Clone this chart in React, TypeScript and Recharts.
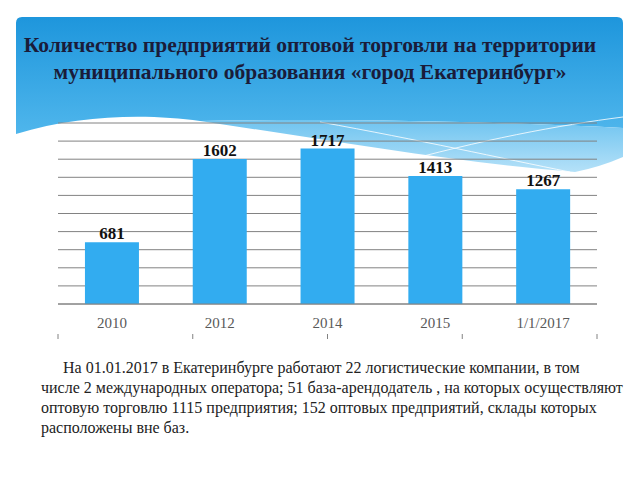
import React from "react";
import { BarChart, Bar, XAxis, YAxis, CartesianGrid, LabelList } from "recharts";

const categories = ["2010", "2012", "2014", "2015", "1/1/2017"];
const companyCounts = [681, 1602, 1717, 1413, 1267];
const yTicks = [0, 200, 400, 600, 800, 1000, 1200, 1400, 1600, 1800, 2000];
const edgeTicks = [0, 1, 2, 3, 4, 5];

const titleLines = [
    "Количество предприятий оптовой торговли на территории",
    "муниципального образования «город Екатеринбург»",
];

const noteLines = [
    "На 01.01.2017 в Екатеринбурге работают 22 логистические компании, в том",
    "числе 2 международных оператора; 51 база-арендодатель , на которых осуществляют",
    "оптовую торговлю 1115 предприятия; 152 оптовых предприятий, склады которых",
    "расположены вне баз.",
];

const data = categories.map((name, i) => ({ name, value: companyCounts[i] }));

const serif = '"Times New Roman", "Liberation Serif", serif';

function HeaderBackground() {
    return (
        <svg width={640} height={200} style={{ position: "absolute", left: 0, top: 0 }}>
            <defs>
                <linearGradient id="hdr" x1="0" y1="0" x2="0" y2="1">
                    <stop offset="0%" stopColor="#1e96dc" />
                    <stop offset="100%" stopColor="#4fb6ec" />
                </linearGradient>
                <linearGradient id="wave" x1="0" y1="0" x2="0" y2="1">
                    <stop offset="0%" stopColor="#6fc4f0" />
                    <stop offset="100%" stopColor="#b5e1f8" />
                </linearGradient>
            </defs>
            <path
                d="M16,23 Q16,17 22,17 L617,17 Q623,17 623,23 L623,128 C500,122 350,118 200,121 C150,114 80,114 16,134 Z"
                fill="url(#hdr)"
            />
            <path
                d="M200,121 C350,118 500,122 623,128 L623,157 Q600,167 575,172 C450,162 330,140 200,121 Z"
                fill="url(#wave)"
            />
            <path d="M320,122 C420,140 500,158 570,172" stroke="#ffffff" strokeOpacity={0.8} fill="none" />
            <path d="M390,165 C480,140 560,125 623,117" stroke="#ffffff" strokeOpacity={0.8} fill="none" />
        </svg>
    );
}

export default function App() {
    return (
        <div style={{ position: "absolute", left: 0, top: 0, width: 640, height: 480, background: "#fff", overflow: "hidden" }}>
            <HeaderBackground />
            <div
                style={{
                    position: "absolute",
                    left: 0,
                    top: 32,
                    width: 620,
                    textAlign: "center",
                    fontFamily: serif,
                    fontWeight: "bold",
                    fontSize: 21.5,
                    lineHeight: "27px",
                    color: "#1a1c3a",
                }}
            >
                {titleLines.map((t) => (
                    <div key={t}>{t}</div>
                ))}
            </div>
            <div style={{ position: "absolute", left: 0, top: 0 }}>
                <BarChart
                    width={640}
                    height={480}
                    data={data}
                    margin={{ top: 123, right: 43, bottom: 145, left: 58 }}
                    barCategoryGap="25%"
                >
                    <CartesianGrid vertical={false} stroke="#828282" strokeWidth={1} />
                    <YAxis hide domain={[0, 2000]} ticks={yTicks} interval={0} />
                    <XAxis
                        xAxisId="edges"
                        type="number"
                        domain={[0, 5]}
                        ticks={edgeTicks}
                        interval={0}
                        height={1}
                        axisLine={false}
                        tick={{ fontSize: 0 }}
                        tickFormatter={() => ""}
                        tickSize={5}
                        tickLine={{ stroke: "#828282" }}
                    />
                    <XAxis
                        dataKey="name"
                        height={30}
                        tickLine={false}
                        axisLine={{ stroke: "#828282" }}
                        tickMargin={7}
                        tick={{ fill: "#595959", fontSize: 15, fontFamily: serif }}
                    />
                    <Bar dataKey="value" fill="#32acf0" isAnimationActive={false}>
                        <LabelList
                            dataKey="value"
                            position="top"
                            offset={3}
                            style={{ fontFamily: serif, fontWeight: "bold", fontSize: 17, fill: "#111" }}
                        />
                    </Bar>
                </BarChart>
            </div>
            <div
                style={{
                    position: "absolute",
                    left: 41,
                    top: 358,
                    fontFamily: serif,
                    fontSize: 16,
                    lineHeight: "20px",
                    color: "#222",
                    whiteSpace: "nowrap",
                }}
            >
                {noteLines.map((t, i) => (
                    <div key={i} style={{ paddingLeft: i === 0 ? 22 : 0 }}>
                        {t}
                    </div>
                ))}
            </div>
        </div>
    );
}
